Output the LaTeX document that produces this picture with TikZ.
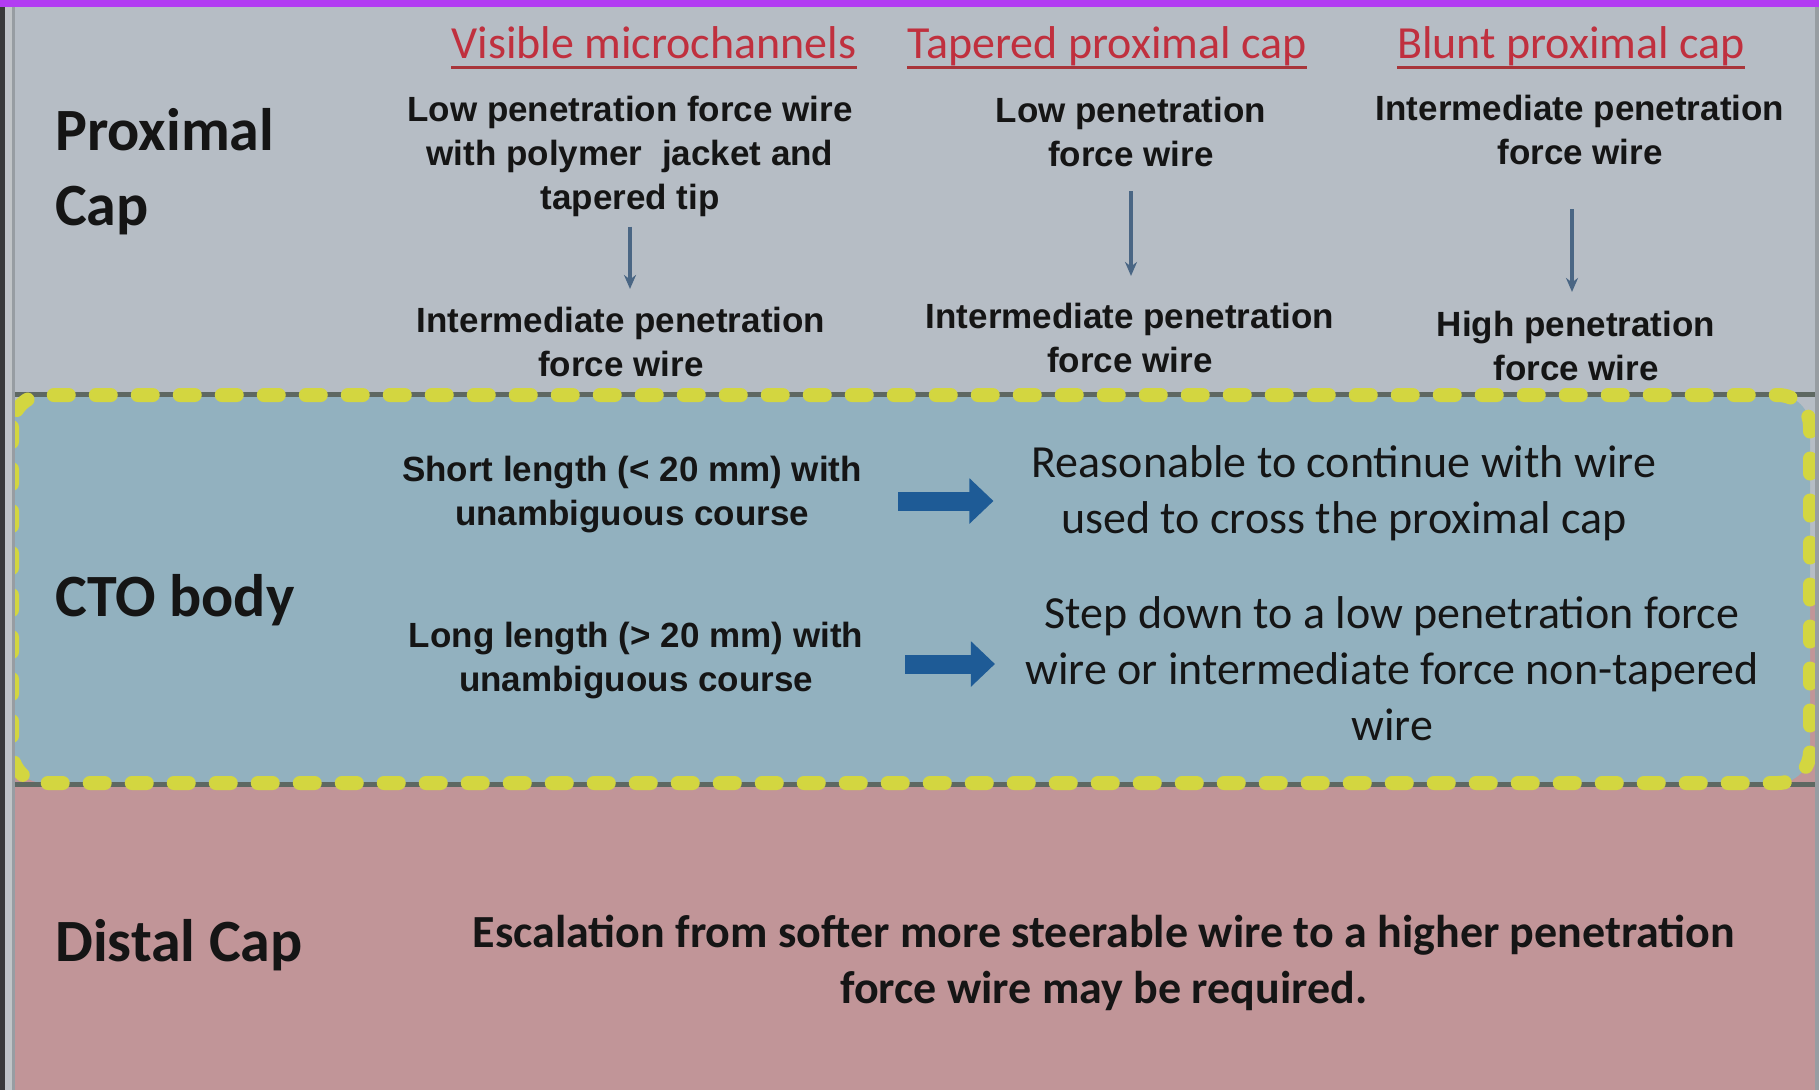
\documentclass[tikz,border=0pt]{standalone}
\usepackage{fontspec}
\setmainfont{Carlito}
\newfontfamily\colfont{Liberation Sans}
\usetikzlibrary{arrows.meta}
\definecolor{proxbg}{HTML}{B6BDC5}
\definecolor{ctobg}{HTML}{92B1BF}
\definecolor{distbg}{HTML}{C19598}
\definecolor{topbar}{HTML}{B23CF2}
\definecolor{edgedark}{HTML}{3A3A3A}
\definecolor{edgelight}{HTML}{C0C4C7}
\definecolor{edgeline}{HTML}{979DA2}
\definecolor{hdrred}{HTML}{C0303E}
\definecolor{ulred}{HTML}{A8353A}
\definecolor{dashy}{HTML}{D3D640}
\definecolor{borderdark}{HTML}{5E6862}
\definecolor{blockblue}{HTML}{1E5B96}
\definecolor{thinblue}{HTML}{4A6684}
\definecolor{txt}{HTML}{151515}
\begin{document}
\begin{tikzpicture}[x=1pt,y=-1pt,
  lab/.style={font=\fontsize{60}{75}\selectfont\bfseries, text=txt, anchor=west, align=left, inner sep=0},
  hdr/.style={font=\fontsize{46}{56}\selectfont, text=hdrred, anchor=base, inner sep=0},
  coltxt/.style={font=\colfont\bfseries\fontsize{35}{44}\selectfont, text=txt, align=center, inner sep=0},
  ctotxt/.style={font=\fontsize{46}{56}\selectfont, text=txt, align=center, inner sep=0},
  disttxt/.style={font=\fontsize{46}{56}\selectfont\bfseries, text=txt, align=center, inner sep=0},
  thinarrow/.style={draw=thinblue, line width=3.5, -{Stealth[length=14,width=12]}},
  blockarrow/.style={draw=blockblue, line width=19, -{Triangle[length=24,width=44]}},
  uline/.style={draw=ulred, line width=3}
]
\useasboundingbox (0,0) rectangle (1819,1090);
% backgrounds
\fill[proxbg] (0,0) rectangle (1819,590);
\fill[distbg] (0,590) rectangle (1819,1090);
\fill[ctobg, rounded corners=32] (12,395) rectangle (1810,783);
\draw[borderdark, line width=5] (12,394) -- (1819,394);
\draw[borderdark, line width=5] (12,784) -- (1819,784);
\draw[dashy, line width=14, dash pattern=on 15 off 27, line cap=round, rounded corners=32] (12,395) rectangle (1810,783);
% frame edges
\fill[edgedark] (0,0) rectangle (5,1090);
\fill[edgelight] (5,7) rectangle (12,1090);
\draw[edgeline, line width=3] (13.5,7) -- (13.5,1090);
\fill[edgeline] (1815,7) rectangle (1819,1090);
\fill[topbar] (0,0) rectangle (1819,7);
% row labels
\node[lab] (lprox) at (55,172) {Proximal\\Cap};
\node[lab] (lcto) at (55,600) {CTO body};
\node[lab] (ldist) at (55,945) {Distal Cap};
% headers
\node[hdr] (h1) at (654,58) {Visible microchannels};
\node[hdr] (h2) at (1107,58) {Tapered proximal cap};
\node[hdr] (h3) at (1571,58) {Blunt proximal cap};
\draw[uline] ([yshift=-9]h1.base west) -- ([yshift=-9]h1.base east);
\draw[uline] ([yshift=-9]h2.base west) -- ([yshift=-9]h2.base east);
\draw[uline] ([yshift=-9]h3.base west) -- ([yshift=-9]h3.base east);
% proximal columns
\node[coltxt] (c1t) at (630,156) {Low penetration force wire\\with polymer~ jacket and\\tapered tip};
\node[coltxt] (c1b) at (621,342) {Intermediate penetration\\force wire};
\node[coltxt] (c2t) at (1131,132) {Low penetration\\force wire};
\node[coltxt] (c2b) at (1130,338) {Intermediate penetration\\force wire};
\node[coltxt] (c3t) at (1580,130) {Intermediate penetration\\force wire};
\node[coltxt] (c3b) at (1576,346) {High penetration\\force wire};
\draw[thinarrow, shorten <=10, shorten >=18] (c1t.south) -- (c1t.south |- c1b.north);
\draw[thinarrow, shorten <=24, shorten >=27] (c2t.south) -- (c2t.south |- c2b.north);
\draw[thinarrow, shorten <=44, shorten >=19] ([xshift=-8]c3t.south) -- ([xshift=-8]c3t.south |- c3b.north);
% CTO body
\node[coltxt] (s1) at (632,495) {Short length (< 20 mm) with\\unambiguous course};
\node[coltxt] (s2) at (636,661) {Long length (> 20 mm) with\\unambiguous course};
\node[ctotxt] (r1) at (1344,493) {Reasonable to continue with wire\\used to cross the proximal cap};
\node[ctotxt] (r2) at (1392,669) {Step down to a low penetration force\\wire or intermediate force non-tapered\\wire};
\draw[blockarrow, shorten <=36, shorten >=38] ([yshift=-6]s1.east) -- ([yshift=-6]s1.east -| r1.west);
\draw[blockarrow, shorten <=42, shorten >=30] ([yshift=-3]s2.east) -- ([yshift=-3]s2.east -| r2.west);
% distal
\node[disttxt] (d1) at (1104,963) {Escalation from softer more steerable wire to a higher penetration\\force wire may be required.};
\end{tikzpicture}
\end{document}
